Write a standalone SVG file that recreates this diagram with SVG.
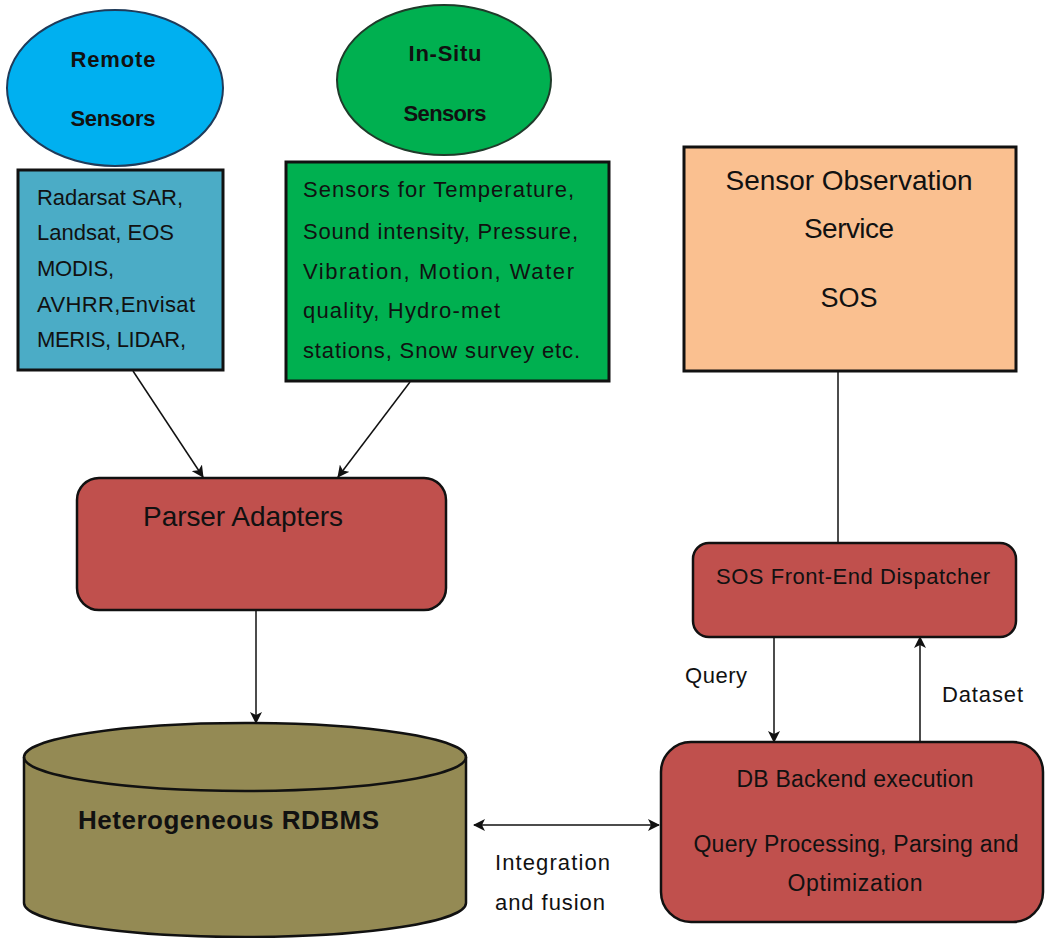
<svg xmlns="http://www.w3.org/2000/svg" width="1045" height="938" viewBox="0 0 1045 938">
<style>
text{font-family:"Liberation Sans",Arial,sans-serif;fill:#111;}
.b{font-weight:bold;}
.box{stroke:#111;stroke-width:3;}
.rr{fill:#C0504D;stroke:#111;stroke-width:2.5;}
.conn{stroke:#111;stroke-width:1.5;fill:none;}
</style>
<defs>
<marker id="ah" viewBox="0 0 12 12" refX="11" refY="6" markerWidth="12" markerHeight="12" markerUnits="userSpaceOnUse" orient="auto-start-reverse">
<path d="M0,0 L12,6 L0,12 L3,6 Z" fill="#111"/>
</marker>
</defs>
<rect width="1045" height="938" fill="#fff"/>

<g id="remote-sensors">
<ellipse cx="115" cy="88" rx="108" ry="78" fill="#00B0F0" stroke="#1F3B5A" stroke-width="2"/>
<text class="b" x="113" y="67" font-size="22" text-anchor="middle" textLength="85">Remote</text>
<text class="b" x="113" y="126" font-size="22" text-anchor="middle" textLength="85">Sensors</text>
</g>

<g id="insitu-sensors">
<ellipse cx="444" cy="80" rx="107" ry="75" fill="#00B050" stroke="#1F3B2A" stroke-width="2"/>
<text class="b" x="445" y="61" font-size="22" text-anchor="middle" textLength="73">In-Situ</text>
<text class="b" x="445" y="121" font-size="22" text-anchor="middle" textLength="83">Sensors</text>
</g>

<g id="remote-list">
<rect class="box" x="18" y="170" width="205" height="200" fill="#4BACC6"/>
<text x="37" y="205" font-size="22" textLength="146">Radarsat SAR,</text>
<text x="37" y="240" font-size="22" textLength="137">Landsat, EOS</text>
<text x="37" y="276" font-size="22" textLength="77">MODIS,</text>
<text x="37" y="312" font-size="22" textLength="158">AVHRR,Envisat</text>
<text x="37" y="347" font-size="22" textLength="149">MERIS, LIDAR,</text>
</g>

<g id="insitu-list">
<rect class="box" x="286" y="162" width="323" height="219" fill="#00B050"/>
<text x="303" y="197" font-size="22" textLength="271">Sensors for Temperature,</text>
<text x="303" y="239" font-size="22" textLength="275">Sound intensity, Pressure,</text>
<text x="303" y="279" font-size="22" textLength="271">Vibration, Motion, Water</text>
<text x="303" y="318" font-size="22" textLength="197">quality, Hydro-met</text>
<text x="303" y="358" font-size="22" textLength="277">stations, Snow survey etc.</text>
</g>

<g id="sos">
<rect class="box" x="684" y="147" width="332" height="224" fill="#FAC090"/>
<text x="849" y="190" font-size="28" text-anchor="middle" textLength="247">Sensor Observation</text>
<text x="849" y="238" font-size="28" text-anchor="middle" textLength="90">Service</text>
<text x="849" y="307" font-size="27" text-anchor="middle">SOS</text>
</g>

<g id="parser-adapters">
<rect class="rr" x="77" y="478" width="369" height="132" rx="22"/>
<text x="143" y="526" font-size="28" textLength="200">Parser Adapters</text>
</g>

<g id="rdbms">
<path d="M24,757 A221,34 0 0,1 466,757 L466,903 A221,34 0 0,1 24,903 Z" fill="#948A54" stroke="#111" stroke-width="2.5"/>
<path d="M24,757 A221,34 0 0,0 466,757" fill="none" stroke="#111" stroke-width="2.5"/>
<text class="b" x="78" y="829" font-size="26" textLength="301">Heterogeneous RDBMS</text>
</g>

<g id="sos-frontend">
<rect class="rr" x="693" y="543" width="323" height="94" rx="16"/>
<text x="716" y="584" font-size="22" textLength="274">SOS Front-End Dispatcher</text>
</g>

<g id="db-backend">
<rect class="rr" x="661" y="742" width="382" height="180" rx="30"/>
<text x="855" y="787" font-size="23" text-anchor="middle" textLength="237">DB Backend execution</text>
<text x="856" y="852" font-size="23" text-anchor="middle" textLength="325">Query Processing, Parsing and</text>
<text x="855" y="891" font-size="23" text-anchor="middle" textLength="135">Optimization</text>
</g>

<g id="connectors">
<line class="conn" x1="133" y1="371" x2="203" y2="477" marker-end="url(#ah)"/>
<line class="conn" x1="410" y1="382" x2="338" y2="477" marker-end="url(#ah)"/>
<line class="conn" x1="256" y1="610" x2="256" y2="723" marker-end="url(#ah)"/>
<line class="conn" x1="838" y1="371" x2="838" y2="543"/>
<line class="conn" x1="774" y1="637" x2="774" y2="742" marker-end="url(#ah)"/>
<line class="conn" x1="920" y1="742" x2="920" y2="637" marker-end="url(#ah)" stroke-width="2"/>
<line class="conn" x1="474" y1="825" x2="659" y2="825" marker-start="url(#ah)" marker-end="url(#ah)" stroke-width="2"/>
<text x="685" y="683" font-size="22" textLength="62">Query</text>
<text x="942" y="702" font-size="22" textLength="81">Dataset</text>
<text x="495" y="870" font-size="22" textLength="115">Integration</text>
<text x="495" y="910" font-size="22" textLength="110">and fusion</text>
</g>
</svg>
